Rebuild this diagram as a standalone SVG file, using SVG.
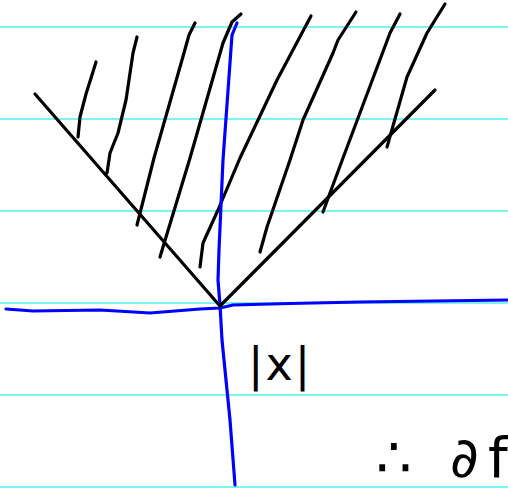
<svg xmlns="http://www.w3.org/2000/svg" width="508" height="490" viewBox="0 0 508 490">
<style>
.rule{stroke:#4ff0f0;stroke-width:1.6;fill:none}
.ink{stroke:#000;stroke-width:3.2;fill:none;stroke-linecap:round;stroke-linejoin:round}
.axis{stroke:#0000ff;stroke-width:3.2;fill:none;stroke-linecap:round;stroke-linejoin:round}
.hand{font-family:"DejaVu Sans","Liberation Sans",sans-serif;fill:#000}
</style>
<rect width="508" height="490" fill="#fff"/>
<g id="rules">
<line class="rule" x1="0" y1="27" x2="508" y2="27"/>
<line class="rule" x1="0" y1="119" x2="508" y2="119"/>
<line class="rule" x1="0" y1="211" x2="508" y2="211"/>
<line class="rule" x1="0" y1="303" x2="508" y2="303"/>
<line class="rule" x1="0" y1="395" x2="508" y2="395"/>
<line class="rule" x1="0" y1="487" x2="508" y2="487"/>
</g>
<g id="hatching">
<path class="ink" d="M96,62 L92,75 L86,94 L80,117 L78,137"/>
<path class="ink" d="M137,37 L133,53 L126,100 L118,133 L110,153 L107,173"/>
<path class="ink" d="M195,23 L189,35 L182,60 L154,158 L137,225"/>
<path class="ink" d="M241,14 L232,22 L223,43 L190,158 L160,257"/>
<path class="ink" d="M311,16 L277,80 L240,158 L218,210 L203,243 L200,267"/>
<path class="ink" d="M356,12 L338,40 L333,53 L303,120 L290,160 L267,227 L260,252"/>
<path class="ink" d="M400,14 L390,33 L343,158 L330,193 L323,212"/>
<path class="ink" d="M445,4 L427,33 L407,77 L387,147"/>
</g>
<g id="axes">
<path class="axis" d="M6,309 L33,311 L100,310 L150,313 L200,309 L220,308 L233,305 L290,303.5 L360,302 L508,300"/>
<path class="axis" d="M237,23 L232,35 L223,160 L219,250 L218,280 L220,305 L222,340 L230,420 L235,485"/>
</g>
<g id="vee">
<path class="ink" d="M35,94 L220,306 L435,90"/>
</g>
<g id="labels">
<text class="hand" x="248" y="380" font-size="46" letter-spacing="2">|x|</text>
<text class="hand" y="477" font-size="56"><tspan x="376">∴</tspan><tspan x="450">∂</tspan><tspan x="488">f</tspan></text>
</g>
</svg>
